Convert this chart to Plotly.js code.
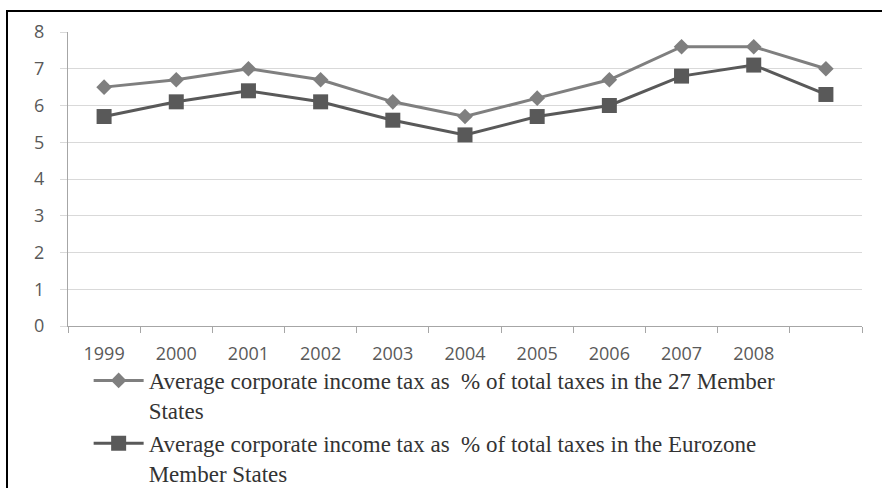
<!DOCTYPE html>
<html>
<head>
<meta charset="utf-8">
<script src="https://cdn.plot.ly/plotly-3.0.1.min.js"></script>
<style>html,body{margin:0;padding:0;background:#fff;}#chart{width:882px;height:488px;}</style>
</head>
<body>
<div id="chart"></div>
<script>
// Data
var xPos = [0, 1, 2, 3, 4, 5, 6, 7, 8, 9, 10];
var yearLabels = ['1999', '2000', '2001', '2002', '2003', '2004', '2005', '2006', '2007', '2008'];
var eu27 = [6.5, 6.7, 7.0, 6.7, 6.1, 5.7, 6.2, 6.7, 7.6, 7.6, 7.0];
var eurozone = [5.7, 6.1, 6.4, 6.1, 5.6, 5.2, 5.7, 6.0, 6.8, 7.1, 6.3];
var seriesNames = [
  'Average corporate income tax as  % of total taxes in the 27 Member<br>States',
  'Average corporate income tax as  % of total taxes in the Eurozone<br>Member States'
];

var labelTicks = yearLabels.map(function (_, i) { return i; });
var boundaryTicks = xPos.map(function (v) { return v - 0.5; }).concat([xPos[xPos.length - 1] + 0.5]);

var traces = [
  {
    x: xPos, y: eu27, name: seriesNames[0], type: 'scatter', mode: 'lines+markers',
    line: {color: '#7f7f7f', width: 3},
    marker: {symbol: 'diamond', size: 12, color: '#7f7f7f'}
  },
  {
    x: xPos, y: eurozone, name: seriesNames[1], type: 'scatter', mode: 'lines+markers',
    line: {color: '#595959', width: 3},
    marker: {symbol: 'square', size: 15, color: '#595959'}
  }
];

var L = 68, R = 20, T = 32, B = 162, W = 882, H = 488;
var pw = W - L - R, ph = H - T - B;
function px2x(p) { return (p - L) / pw; }
function px2y(p) { return (H - B - p) / ph; }

var layout = {
  width: W, height: H,
  margin: {l: L, r: R, t: T, b: B, autoexpand: false},
  paper_bgcolor: '#ffffff', plot_bgcolor: '#ffffff',
  showlegend: true,
  xaxis: {
    range: [-0.5, 10.5], automargin: false,
    tickmode: 'array', tickvals: labelTicks, ticktext: yearLabels,
    ticks: '', showgrid: false, zeroline: false,
    showline: true, linecolor: '#a6a6a6', linewidth: 1,
    tickfont: {family: 'Open Sans', size: 18, color: '#595959'},
    ticklabelstandoff: 11,
    minor: {tickmode: 'array', tickvals: boundaryTicks, ticks: 'outside', ticklen: 6, tickcolor: '#a6a6a6', showgrid: false}
  },
  yaxis: {
    range: [0, 8], dtick: 1, tick0: 0, automargin: false,
    showgrid: true, gridcolor: '#d9d9d9', gridwidth: 1,
    zeroline: false, showline: true, linecolor: '#a6a6a6', linewidth: 1,
    ticks: 'outside', ticklen: 7, tickcolor: '#d9d9d9',
    tickfont: {family: 'Open Sans', size: 18, color: '#595959'},
    ticklabelstandoff: 12
  },
  legend: {
    x: 0.026, y: -0.112, xanchor: 'left', yanchor: 'top',
    orientation: 'v', valign: 'top', itemwidth: 50,
    font: {family: 'Liberation Serif', size: 23, color: '#333333'},
    bgcolor: 'rgba(0,0,0,0)'
  },
  shapes: [
    {type: 'line', xref: 'paper', yref: 'paper', x0: px2x(7), x1: px2x(7), y0: px2y(10), y1: px2y(495), line: {color: '#000', width: 2}},
    {type: 'line', xref: 'paper', yref: 'paper', x0: px2x(6), x1: px2x(890), y0: px2y(11), y1: px2y(11), line: {color: '#000', width: 2}}
  ]
};

Plotly.newPlot('chart', traces, layout, {displayModeBar: false, staticPlot: true});
</script>
</body>
</html>
